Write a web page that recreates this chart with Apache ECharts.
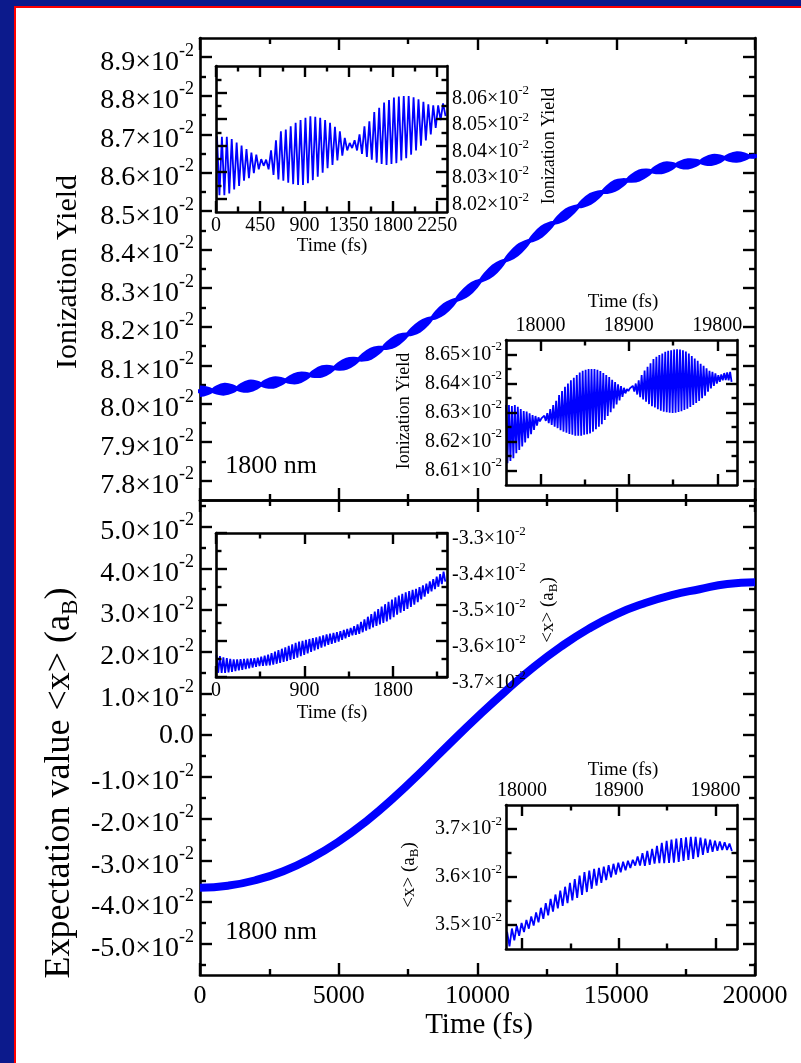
<!DOCTYPE html>
<html><head><meta charset="utf-8">
<script src="https://cdn.jsdelivr.net/npm/echarts@6/dist/echarts.min.js"></script>
<style>
html,body{margin:0;padding:0;background:#0c1a8c;width:801px;height:1063px;overflow:hidden}
#red{position:absolute;left:14px;top:6px;width:787px;height:1057px;background:#ff0000}
#white{position:absolute;left:16px;top:8px;width:785px;height:1055px;background:#ffffff}
#chart{position:absolute;left:0;top:0;width:801px;height:1063px}
</style></head><body>
<div id="red"></div><div id="white"></div><div id="chart"></div>
<script>
// ---------------- DATA (values in units of 10^-2) ----------------
const mainTopNodeTimes = [-434, 445, 1324, 2203, 3082, 3961, 4840, 5719, 6598, 7477, 8356, 9235, 10114, 10993, 11872, 12751, 13630, 14509, 15388, 16267, 17146, 18025, 18904, 19783, 20662];
const mainTopNodeMid = [8.033, 8.034, 8.039, 8.050, 8.060, 8.075, 8.093, 8.115, 8.145, 8.180, 8.222, 8.270, 8.320, 8.372, 8.423, 8.470, 8.513, 8.550, 8.580, 8.604, 8.620, 8.628, 8.638, 8.642, 8.645];
const mainTopBeadMid = [8.0325, 8.0378, 8.0458, 8.055, 8.067, 8.084, 8.104, 8.130, 8.162, 8.200, 8.246, 8.295, 8.346, 8.398, 8.447, 8.492, 8.532, 8.566, 8.593, 8.613, 8.623, 8.6335, 8.6408, 8.644];
const mainTopBeadHalf = [0.0111, 0.0127, 0.0126, 0.012, 0.012, 0.012, 0.012, 0.012, 0.012, 0.012, 0.012, 0.012, 0.012, 0.012, 0.012, 0.012, 0.012, 0.012, 0.012, 0.012, 0.0105, 0.0115, 0.011, 0.004];

const mainBottomTimes = [0, 1000, 2000, 3000, 4000, 5000, 6000, 7000, 8000, 9000, 10000, 11000, 12000, 13000, 14000, 15000, 16000, 17000, 18000, 19000, 20000];
const mainBottomValues = [-3.660, -3.609, -3.478, -3.26, -2.95, -2.55, -2.06, -1.49, -0.86, -0.20, 0.44, 1.05, 1.62, 2.12, 2.55, 2.90, 3.16, 3.36, 3.50, 3.626, 3.665];

const inset1Start = 10, inset1Step = 50;
const inset1Peaks = [8.0435, 8.0433, 8.0433, 8.0425, 8.0412, 8.0400, 8.0387, 8.0374, 8.0366, 8.0349, 8.0347, 8.0382, 8.0420, 8.0454, 8.0461, 8.0473, 8.0486, 8.0496, 8.0505, 8.0511, 8.0509, 8.0505, 8.0496, 8.0486, 8.0471, 8.0454, 8.0429, 8.0410, 8.0420, 8.0442, 8.0473, 8.0492, 8.0527, 8.0543, 8.0562, 8.0572, 8.0581, 8.0585, 8.0587, 8.0587, 8.0582, 8.0575, 8.0565, 8.0556, 8.0552, 8.0552, 8.0559];
const inset1Troughs = [8.0213, 8.0213, 8.0220, 8.0235, 8.0248, 8.0268, 8.0277, 8.0296, 8.0311, 8.0324, 8.0311, 8.0290, 8.0273, 8.0268, 8.0260, 8.0255, 8.0252, 8.0252, 8.0258, 8.0270, 8.0283, 8.0298, 8.0315, 8.0327, 8.0344, 8.0362, 8.0382, 8.0391, 8.0382, 8.0369, 8.0357, 8.0347, 8.0336, 8.0331, 8.0327, 8.0331, 8.0334, 8.0344, 8.0353, 8.0366, 8.0382, 8.0400, 8.0420, 8.0442, 8.0467, 8.0496, 8.0511];

const inset2Start = 17650, inset2Step = 30;
const inset2Peaks = [8.6326, 8.6326, 8.6322, 8.6326, 8.6320, 8.6312, 8.6305, 8.6303, 8.6297, 8.6291, 8.6288, 8.6283, 8.6280, 8.6289, 8.6298, 8.6312, 8.6326, 8.6340, 8.6360, 8.6374, 8.6389, 8.6400, 8.6411, 8.6420, 8.6429, 8.6438, 8.6444, 8.6447, 8.6450, 8.6450, 8.6450, 8.6447, 8.6443, 8.6436, 8.6429, 8.6422, 8.6413, 8.6405, 8.6397, 8.6391, 8.6385, 8.6381, 8.6383, 8.6392, 8.6400, 8.6411, 8.6429, 8.6445, 8.6458, 8.6470, 8.6484, 8.6492, 8.6498, 8.6503, 8.6509, 8.6513, 8.6515, 8.6517, 8.6518, 8.6517, 8.6515, 8.6510, 8.6503, 8.6495, 8.6486, 8.6478, 8.6468, 8.6461, 8.6452, 8.6444, 8.6440, 8.6435, 8.6429, 8.6431, 8.6436, 8.6438, 8.6440];
const inset2Troughs = [8.6125, 8.6133, 8.6142, 8.6160, 8.6171, 8.6183, 8.6197, 8.6211, 8.6225, 8.6240, 8.6255, 8.6269, 8.6275, 8.6271, 8.6263, 8.6257, 8.6251, 8.6246, 8.6239, 8.6234, 8.6230, 8.6226, 8.6223, 8.6220, 8.6220, 8.6220, 8.6223, 8.6225, 8.6228, 8.6234, 8.6242, 8.6251, 8.6260, 8.6274, 8.6288, 8.6301, 8.6314, 8.6328, 8.6342, 8.6354, 8.6366, 8.6374, 8.6377, 8.6372, 8.6362, 8.6353, 8.6345, 8.6337, 8.6329, 8.6322, 8.6317, 8.6311, 8.6306, 8.6303, 8.6301, 8.6299, 8.6298, 8.6299, 8.6302, 8.6304, 8.6309, 8.6313, 8.6319, 8.6326, 8.6333, 8.6340, 8.6349, 8.6358, 8.6372, 8.6383, 8.6392, 8.6400, 8.6406, 8.6411, 8.6412, 8.6411, 8.6406];

const inset3Start = 5, inset3Step = 35;
const inset3Peaks = [-3.6383, -3.6420, -3.6456, -3.6477, -3.6494, -3.6512, -3.6508, -3.6503, -3.6498, -3.6493, -3.6482, -3.6474, -3.6462, -3.6435, -3.6409, -3.6379, -3.6335, -3.6293, -3.6253, -3.6215, -3.6177, -3.6137, -3.6093, -3.6049, -3.6018, -3.5993, -3.5969, -3.5944, -3.5921, -3.5896, -3.5871, -3.5844, -3.5818, -3.5797, -3.5778, -3.5757, -3.5726, -3.5695, -3.5665, -3.5636, -3.5591, -3.5539, -3.5469, -3.5397, -3.5326, -3.5255, -3.5183, -3.5114, -3.5045, -3.4978, -3.4914, -3.4852, -3.4790, -3.4738, -3.4693, -3.4648, -3.4613, -3.4581, -3.4549, -3.4503, -3.4455, -3.4407, -3.4343, -3.4280, -3.4215, -3.4143, -3.4073];
const inset3Troughs = [-3.6883, -3.6886, -3.6887, -3.6873, -3.6856, -3.6838, -3.6819, -3.6801, -3.6781, -3.6763, -3.6739, -3.6717, -3.6697, -3.6692, -3.6686, -3.6676, -3.6654, -3.6632, -3.6609, -3.6582, -3.6556, -3.6527, -3.6494, -3.6461, -3.6424, -3.6383, -3.6344, -3.6305, -3.6264, -3.6223, -3.6186, -3.6148, -3.6110, -3.6079, -3.6048, -3.6016, -3.5970, -3.5925, -3.5881, -3.5844, -3.5826, -3.5801, -3.5757, -3.5713, -3.5669, -3.5625, -3.5581, -3.5538, -3.5497, -3.5457, -3.5401, -3.5335, -3.5269, -3.5214, -3.5164, -3.5112, -3.5051, -3.4987, -3.4923, -3.4845, -3.4765, -3.4685, -3.4620, -3.4557, -3.4493, -3.4420, -3.4351];

const inset4Start = 17860, inset4Step = 45;
const inset4Peaks = [3.4864, 3.4926, 3.4986, 3.5043, 3.5107, 3.5179, 3.5261, 3.5358, 3.5453, 3.5546, 3.5635, 3.5716, 3.5797, 3.5876, 3.5955, 3.6031, 3.6100, 3.6134, 3.6167, 3.6190, 3.6214, 3.6245, 3.6275, 3.6297, 3.6318, 3.6339, 3.6360, 3.6425, 3.6497, 3.6546, 3.6588, 3.6647, 3.6710, 3.6751, 3.6779, 3.6799, 3.6813, 3.6825, 3.6837, 3.6836, 3.6820, 3.6801, 3.6778, 3.6758, 3.6742, 3.6723, 3.6695];
const inset4Troughs = [3.4557, 3.4679, 3.4775, 3.4853, 3.4923, 3.4987, 3.5055, 3.5128, 3.5202, 3.5279, 3.5346, 3.5400, 3.5455, 3.5511, 3.5567, 3.5626, 3.5687, 3.5755, 3.5822, 3.5879, 3.5937, 3.5994, 3.6051, 3.6098, 3.6142, 3.6190, 3.6237, 3.6240, 3.6234, 3.6254, 3.6279, 3.6289, 3.6291, 3.6296, 3.6300, 3.6316, 3.6336, 3.6357, 3.6378, 3.6414, 3.6463, 3.6501, 3.6525, 3.6546, 3.6561, 3.6564, 3.6541];

const mainXMajor = [0, 5000, 10000, 15000, 20000];
const mainXMinor = [2500, 7500, 12500, 17500];
const mainTopYMajor = [7.8, 7.9, 8.0, 8.1, 8.2, 8.3, 8.4, 8.5, 8.6, 8.7, 8.8, 8.9];
const mainTopYMinor = [7.85, 7.95, 8.05, 8.15, 8.25, 8.35, 8.45, 8.55, 8.65, 8.75, 8.85];
const mainBotYMajor = [-5, -4, -3, -2, -1, 0, 1, 2, 3, 4, 5];
const mainBotYMinor = [-5.5, -4.5, -3.5, -2.5, -1.5, -0.5, 0.5, 1.5, 2.5, 3.5, 4.5, 5.5];
const in1XMajor = [0, 450, 900, 1350, 1800, 2250];
const in1XMinor = [225, 675, 1125, 1575, 2025];
const in1YMajor = [8.02, 8.03, 8.04, 8.05, 8.06];
const in1YMinor = [8.025, 8.035, 8.045, 8.055, 8.065];
const in2XMajor = [18000, 18900, 19800];
const in2XMinor = [18450, 19350];
const in2YMajor = [8.61, 8.62, 8.63, 8.64, 8.65];
const in2YMinor = [8.615, 8.625, 8.635, 8.645];
const in3XMajor = [0, 900, 1800];
const in3XMinor = [450, 1350, 2250];
const in3YMajor = [-3.7, -3.6, -3.5, -3.4, -3.3];
const in3YMinor = [-3.65, -3.55, -3.45, -3.35];
const in4XMajor = [18000, 18900, 19800];
const in4XMinor = [18450, 19350];
const in4YMajor = [3.5, 3.6, 3.7];
const in4YMinor = [3.55, 3.65];

// ---------------- CHART ----------------
const F = '"Liberation Serif", "Times New Roman", serif';
const BLUE = '#0000ff';
const xAxes = [], yAxes = [];
function addAxes(list, gridIndex, position, min, max, majors, minors, tickLen, label, z) {
  const base = {type: 'value', gridIndex: gridIndex, position: position, min: min, max: max, splitLine: {show: false}, z: z, scale: true};
  const idx = list.length;
  list.push(Object.assign({}, base, {
    axisLine: {show: true, onZero: false, lineStyle: {color: '#000', width: 2.6}},
    axisTick: {show: true, inside: true, length: tickLen, customValues: majors, lineStyle: {color: '#000', width: 2.4}},
    axisLabel: label ? Object.assign({show: true, customValues: majors, color: '#000', fontFamily: F}, label) : {show: false}
  }));
  list.push(Object.assign({}, base, {
    axisLine: {show: false, onZero: false},
    axisTick: {show: true, inside: true, length: tickLen / 2, customValues: minors, lineStyle: {color: '#000', width: 2.4}},
    axisLabel: {show: false}
  }));
  return idx;
}
function richSup(big, small, lh, pad) {
  return {
    m: {fontSize: big, lineHeight: lh, fontFamily: F, color: '#000'},
    s: {fontSize: small, lineHeight: small, verticalAlign: 'top', fontFamily: F, color: '#000'},
    z: {fontSize: big, lineHeight: lh, fontFamily: F, color: '#000', padding: [0, 0, pad, 0]}
  };
}
function supFmt(dec) { return function (v) { return '{m|' + v.toFixed(dec) + '×10}{s|-2}'; }; }

const mainYLab = {margin: 6, padding: [10, 0, 0, 0], formatter: supFmt(1), rich: richSup(28, 18, 40, 10)};
const mainBotYLab = {margin: 6, padding: [10, 0, 0, 0], formatter: function (v) { return Math.abs(v) < 1e-9 ? '{z|0.0}' : '{m|' + v.toFixed(1) + '×10}{s|-2}'; }, rich: richSup(28, 18, 40, 10)};
const mainXLab = {margin: 8, fontSize: 26, formatter: function (v) { return String(Math.round(v)); }};
const inXLab = {margin: 4, fontSize: 20, formatter: function (v) { return String(Math.round(v)); }};
const inRightLab = function (dec) { return {margin: 5, padding: [12, 0, 0, 0], formatter: supFmt(dec), rich: richSup(20, 13, 28, 0)}; };
const inLeftLab = function (dec) { return {margin: 4, formatter: supFmt(dec), rich: richSup(20, 13, 28, 0)}; };

const g0x = addAxes(xAxes, 0, 'bottom', 0, 20000, mainXMajor, mainXMinor, 12, null, 1);
addAxes(xAxes, 0, 'top', 0, 20000, mainXMajor, mainXMinor, 12, null, 1);
const g0y = addAxes(yAxes, 0, 'left', 7.75, 8.95, mainTopYMajor, mainTopYMinor, 12, mainYLab, 1);
addAxes(yAxes, 0, 'right', 7.75, 8.95, mainTopYMajor, mainTopYMinor, 12, null, 1);
const g1x = addAxes(xAxes, 1, 'bottom', 0, 20000, mainXMajor, mainXMinor, 12, mainXLab, 1);
addAxes(xAxes, 1, 'top', 0, 20000, mainXMajor, mainXMinor, 12, null, 1);
const g1y = addAxes(yAxes, 1, 'left', -5.75, 5.64, mainBotYMajor, mainBotYMinor, 12, mainBotYLab, 1);
addAxes(yAxes, 1, 'right', -5.75, 5.64, mainBotYMajor, mainBotYMinor, 12, null, 1);
const g2x = addAxes(xAxes, 2, 'bottom', 0, 2350, in1XMajor, in1XMinor, 11, inXLab, 40);
addAxes(xAxes, 2, 'top', 0, 2350, in1XMajor, in1XMinor, 11, null, 40);
const g2y = addAxes(yAxes, 2, 'left', 8.015, 8.07, in1YMajor, in1YMinor, 11, null, 40);
addAxes(yAxes, 2, 'right', 8.015, 8.07, in1YMajor, in1YMinor, 11, inRightLab(2), 40);
const g3x = addAxes(xAxes, 3, 'bottom', 17650, 20000, in2XMajor, in2XMinor, 11, null, 40);
addAxes(xAxes, 3, 'top', 17650, 20000, in2XMajor, in2XMinor, 11, inXLab, 40);
const g3y = addAxes(yAxes, 3, 'left', 8.605, 8.655, in2YMajor, in2YMinor, 11, inLeftLab(2), 40);
addAxes(yAxes, 3, 'right', 8.605, 8.655, in2YMajor, in2YMinor, 11, null, 40);
const g4x = addAxes(xAxes, 4, 'bottom', 0, 2350, in3XMajor, in3XMinor, 11, inXLab, 40);
addAxes(xAxes, 4, 'top', 0, 2350, in3XMajor, in3XMinor, 11, null, 40);
const g4y = addAxes(yAxes, 4, 'left', -3.7, -3.3, in3YMajor, in3YMinor, 11, null, 40);
addAxes(yAxes, 4, 'right', -3.7, -3.3, in3YMajor, in3YMinor, 11, inRightLab(1), 40);
const g5x = addAxes(xAxes, 5, 'bottom', 17850, 20000, in4XMajor, in4XMinor, 11, null, 40);
addAxes(xAxes, 5, 'top', 17850, 20000, in4XMajor, in4XMinor, 11, inXLab, 40);
const g5y = addAxes(yAxes, 5, 'left', 3.45, 3.75, in4YMajor, in4YMinor, 11, inLeftLab(1), 40);
addAxes(yAxes, 5, 'right', 3.45, 3.75, in4YMajor, in4YMinor, 11, null, 40);

function zigzag(start, step, peaks, troughs) {
  const d = [];
  for (let k = 0; k < peaks.length; k++) {
    d.push([start + step * k, peaks[k]]);
    d.push([start + step * k + step / 2, troughs[k]]);
  }
  return d;
}
const beadData = [];
const centerLine = [];
for (let i = 0; i < mainTopNodeTimes.length - 1; i++) {
  beadData.push([mainTopNodeTimes[i], mainTopNodeMid[i], mainTopNodeTimes[i + 1], mainTopNodeMid[i + 1], mainTopBeadMid[i], mainTopBeadHalf[i]]);
  centerLine.push([mainTopNodeTimes[i], mainTopNodeMid[i]]);
  centerLine.push([(mainTopNodeTimes[i] + mainTopNodeTimes[i + 1]) / 2, mainTopBeadMid[i]]);
}
centerLine.push([mainTopNodeTimes[mainTopNodeTimes.length - 1], mainTopNodeMid[mainTopNodeMid.length - 1]]);
const bottomData = mainBottomTimes.map(function (t, i) { return [t, mainBottomValues[i]]; });

function insetLine(xi, yi, data) {
  return {type: 'line', xAxisIndex: xi, yAxisIndex: yi, data: data, showSymbol: false, symbol: 'none',
    lineStyle: {color: BLUE, width: 1.8}, clip: true, z: 30, animation: false};
}
const insetGrid = {show: true, backgroundColor: '#fff', borderWidth: 0, z: 10, outerBoundsMode: 'none', containLabel: false};

function txt(x, y, text, size, rot, rich) {
  const st = {text: text, fontSize: size, fontFamily: F, fill: '#000', align: 'center', verticalAlign: 'middle', textAlign: 'center', textVerticalAlign: 'middle'};
  if (rich) st.rich = rich;
  return {type: 'text', x: x, y: y, rotation: rot || 0, style: st, z: 100, silent: true};
}
const subRich = function (size, sub) {
  return {n: {fontSize: size, fontFamily: F, fill: '#000', color: '#000', lineHeight: Math.round(size * 1.25)},
          b: {fontSize: sub, fontFamily: F, fill: '#000', color: '#000', verticalAlign: 'bottom', lineHeight: sub}};
};

const option = {
  animation: false,
  backgroundColor: 'transparent',
  grid: [
    {left: 200, top: 38, width: 555, height: 462, outerBoundsMode: 'none', containLabel: false},
    {left: 200, top: 500, width: 555, height: 475, outerBoundsMode: 'none', containLabel: false},
    Object.assign({left: 216, top: 66, width: 231, height: 146}, insetGrid),
    Object.assign({left: 506, top: 340, width: 231, height: 145}, insetGrid),
    Object.assign({left: 216, top: 533, width: 231, height: 144}, insetGrid),
    Object.assign({left: 506, top: 805, width: 231, height: 144}, insetGrid)
  ],
  xAxis: xAxes,
  yAxis: yAxes,
  series: [
    {
      type: 'custom', xAxisIndex: g0x, yAxisIndex: g0y, clip: true, z: 2,
      encode: {x: [0, 2], y: [1, 4]},
      data: beadData,
      renderItem: function (params, api) {
        const t0 = api.value(0), v0 = api.value(1), t1 = api.value(2), v1 = api.value(3), vm = api.value(4), h = api.value(5);
        const tm = (t0 + t1) / 2;
        const pts = [api.coord([t0, v0]), api.coord([tm, vm + h]), api.coord([t1, v1]), api.coord([tm, vm - h])];
        return {type: 'polygon', shape: {points: pts, smooth: 0.35}, style: {fill: BLUE, stroke: BLUE, lineWidth: 3}};
      }
    },
    {type: 'line', xAxisIndex: g0x, yAxisIndex: g0y, data: centerLine, showSymbol: false, symbol: 'none', smooth: true,
      lineStyle: {color: BLUE, width: 4}, clip: true, z: 3},
    {type: 'line', xAxisIndex: g1x, yAxisIndex: g1y, data: bottomData, showSymbol: false, symbol: 'none', smooth: true,
      lineStyle: {color: BLUE, width: 8}, clip: true, z: 3},
    insetLine(g2x, g2y, zigzag(inset1Start, inset1Step, inset1Peaks, inset1Troughs)),
    insetLine(g3x, g3y, zigzag(inset2Start, inset2Step, inset2Peaks, inset2Troughs)),
    insetLine(g4x, g4y, zigzag(inset3Start, inset3Step, inset3Peaks, inset3Troughs)),
    insetLine(g5x, g5y, zigzag(inset4Start, inset4Step, inset4Peaks, inset4Troughs))
  ],
  graphic: [
    txt(68, 272, 'Ionization Yield', 30, Math.PI / 2),
    txt(60, 783, '{n|Expectation value <x> (a}{b|B}{n|)}', 36, Math.PI / 2, subRich(36, 23)),
    txt(479, 1025, 'Time (fs)', 29, 0),
    txt(271, 466, '1800 nm', 26, 0),
    txt(271, 932, '1800 nm', 26, 0),
    txt(549, 146, 'Ionization Yield', 18, Math.PI / 2),
    txt(404, 411, 'Ionization Yield', 18, Math.PI / 2),
    txt(548, 610, '{n|<x> (a}{b|B}{n|)}', 19, Math.PI / 2, subRich(19, 13)),
    txt(409, 875, '{n|<x> (a}{b|B}{n|)}', 19, Math.PI / 2, subRich(19, 13)),
    txt(332, 246, 'Time (fs)', 19, 0),
    txt(623, 302, 'Time (fs)', 19, 0),
    txt(332, 713, 'Time (fs)', 19, 0),
    txt(623, 770, 'Time (fs)', 19, 0)
  ]
};
const chart = echarts.init(document.getElementById('chart'), null, {renderer: 'canvas', width: 801, height: 1063});
chart.setOption(option);
</script></body></html>
